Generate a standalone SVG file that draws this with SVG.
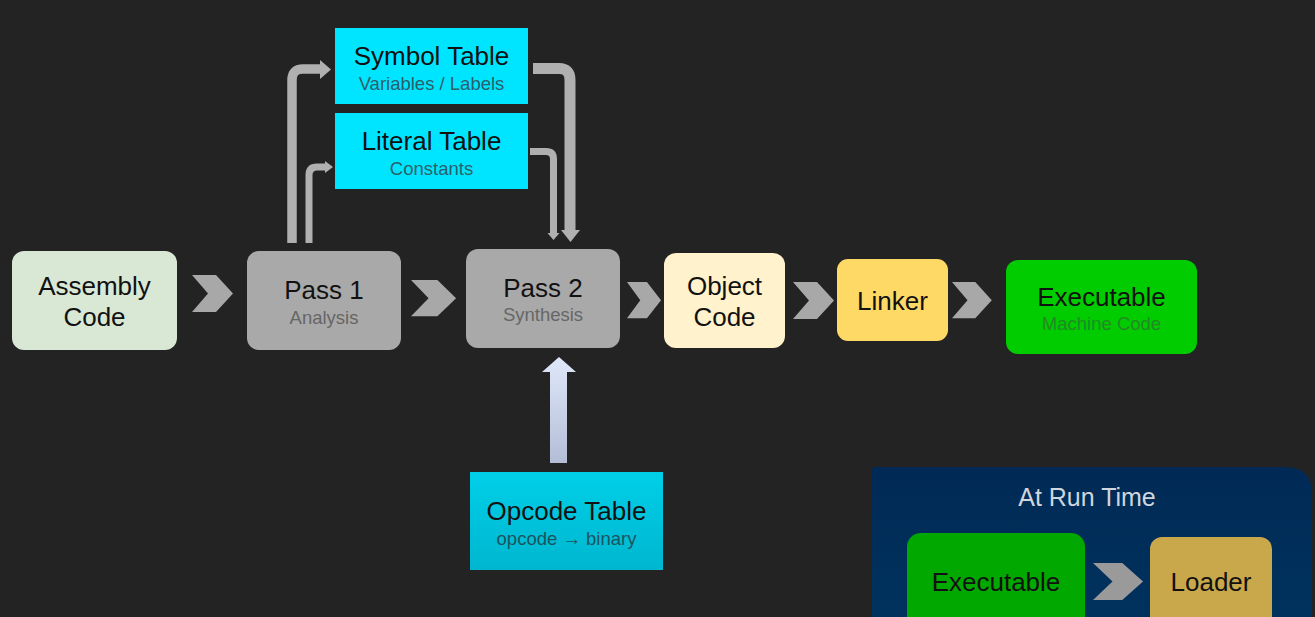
<svg xmlns="http://www.w3.org/2000/svg" width="1315" height="617" viewBox="0 0 1315 617">
<defs>
<style>
text{font-family:"Liberation Sans",Arial,sans-serif;text-anchor:middle}
.t{font-size:26px;fill:#111}
.s{font-size:18.5px}
.chev{fill:#a8a8a8}
.pipe{fill:none;stroke:#b0b0b0;stroke-linejoin:round}
.head{fill:#b0b0b0}
</style>
<linearGradient id="opg" x1="0" y1="0" x2="0" y2="1"><stop offset="0" stop-color="#dfe8fa"/><stop offset="1" stop-color="#b3bdd6"/></linearGradient>
<linearGradient id="otg" x1="0" y1="0" x2="0" y2="1"><stop offset="0" stop-color="#00cfe8"/><stop offset="1" stop-color="#00b6cf"/></linearGradient>
<linearGradient id="rtg" x1="0" y1="0" x2="0" y2="1"><stop offset="0" stop-color="#002a55"/><stop offset="1" stop-color="#00325e"/></linearGradient>
<path id="chev" d="M0,0 H24 L41,18.5 L24,37 H0 L16,18.5 Z"/>
</defs>
<rect width="1315" height="617" fill="#232323"/>

<g id="assembly-code">
<rect x="12" y="251" width="165" height="99" rx="12" fill="#d9e8d4"/>
<text class="t" x="94.5" y="295">Assembly</text>
<text class="t" x="94.5" y="326">Code</text>
</g>

<g id="pass1">
<rect x="247" y="251" width="154" height="99" rx="12" fill="#a9a9a9"/>
<text class="t" x="324" y="299">Pass 1</text>
<text class="s" x="324" y="324" fill="#666">Analysis</text>
</g>

<g id="pass2">
<rect x="466" y="249" width="154" height="99" rx="12" fill="#a9a9a9"/>
<text class="t" x="543" y="297">Pass 2</text>
<text class="s" x="543" y="321" fill="#666">Synthesis</text>
</g>

<g id="object-code">
<rect x="664" y="253" width="121" height="95" rx="12" fill="#fff2cc"/>
<text class="t" x="724.5" y="295">Object</text>
<text class="t" x="724.5" y="326">Code</text>
</g>

<g id="linker">
<rect x="837" y="259" width="111" height="82" rx="11" fill="#ffd966"/>
<text class="t" x="892.5" y="310">Linker</text>
</g>

<g id="executable">
<rect x="1006" y="260" width="191" height="94" rx="12" fill="#00cc00"/>
<text class="t" x="1101.5" y="306">Executable</text>
<text class="s" x="1101.5" y="330" fill="#238a23">Machine Code</text>
</g>

<g id="symbol-table">
<rect x="335" y="28" width="193" height="76" fill="#00e5ff"/>
<text class="t" x="431.5" y="65">Symbol Table</text>
<text class="s" x="431.5" y="90" fill="#2b5f6b">Variables / Labels</text>
</g>

<g id="literal-table">
<rect x="335" y="113" width="193" height="76" fill="#00e5ff"/>
<text class="t" x="431.5" y="150">Literal Table</text>
<text class="s" x="431.5" y="175" fill="#2b5f6b">Constants</text>
</g>

<g id="opcode-table">
<rect x="470" y="472" width="193" height="98" fill="url(#otg)"/>
<text class="t" x="566.5" y="520">Opcode Table</text>
<text class="s" x="566.5" y="545" fill="#1c5560">opcode → binary</text>
</g>

<g id="run-time">
<path d="M872,470 Q872,467 875,467 H1285 Q1312,467 1312,494 V617 H872 Z" fill="url(#rtg)"/>
<text x="1087" y="506" font-size="25" fill="#d0d6dd">At Run Time</text>
</g>

<g id="rt-executable">
<rect x="907" y="533" width="178" height="100" rx="14" fill="#00a800"/>
<text class="t" x="996" y="591">Executable</text>
</g>

<g id="loader">
<rect x="1150" y="537" width="122" height="96" rx="12" fill="#c9a84c"/>
<text class="t" x="1211" y="591">Loader</text>
</g>

<g id="connectors">
<use href="#chev" class="chev" x="192" y="275"/>
<use href="#chev" class="chev" transform="translate(411,280) scale(1.1,0.98)"/>
<use href="#chev" class="chev" transform="translate(627,282) scale(0.83,0.98)"/>
<use href="#chev" class="chev" x="793" y="282"/>
<use href="#chev" class="chev" transform="translate(952,282) scale(0.97,0.98)"/>
<use href="#chev" transform="translate(1093,563) scale(1.22,1)" fill="#9a9a9a"/>
<path class="pipe" stroke-width="9.5" d="M292,243 V80 Q292,69 303,69 H321"/>
<path class="head" d="M320,60 L331,69.5 L320,79 Z"/>
<path class="pipe" stroke-width="7" d="M309,243 V175 Q309,167 317,167 H326"/>
<path class="head" d="M325,161 L333,167 L325,173 Z"/>
<path class="pipe" stroke-width="11" d="M533,68.5 H559 Q570,68.5 570,80 V232"/>
<path class="head" d="M561,230 H580 L570.5,242 Z"/>
<path class="pipe" stroke-width="7" d="M530,151.5 H546 Q553.5,151.5 553.5,159 V234"/>
<path class="head" d="M547.5,233 H559.5 L553.5,240 Z"/>
<path d="M559,357 L576,372 H567 V463 H550 V372 H542 Z" fill="url(#opg)"/>
</g>
</svg>
